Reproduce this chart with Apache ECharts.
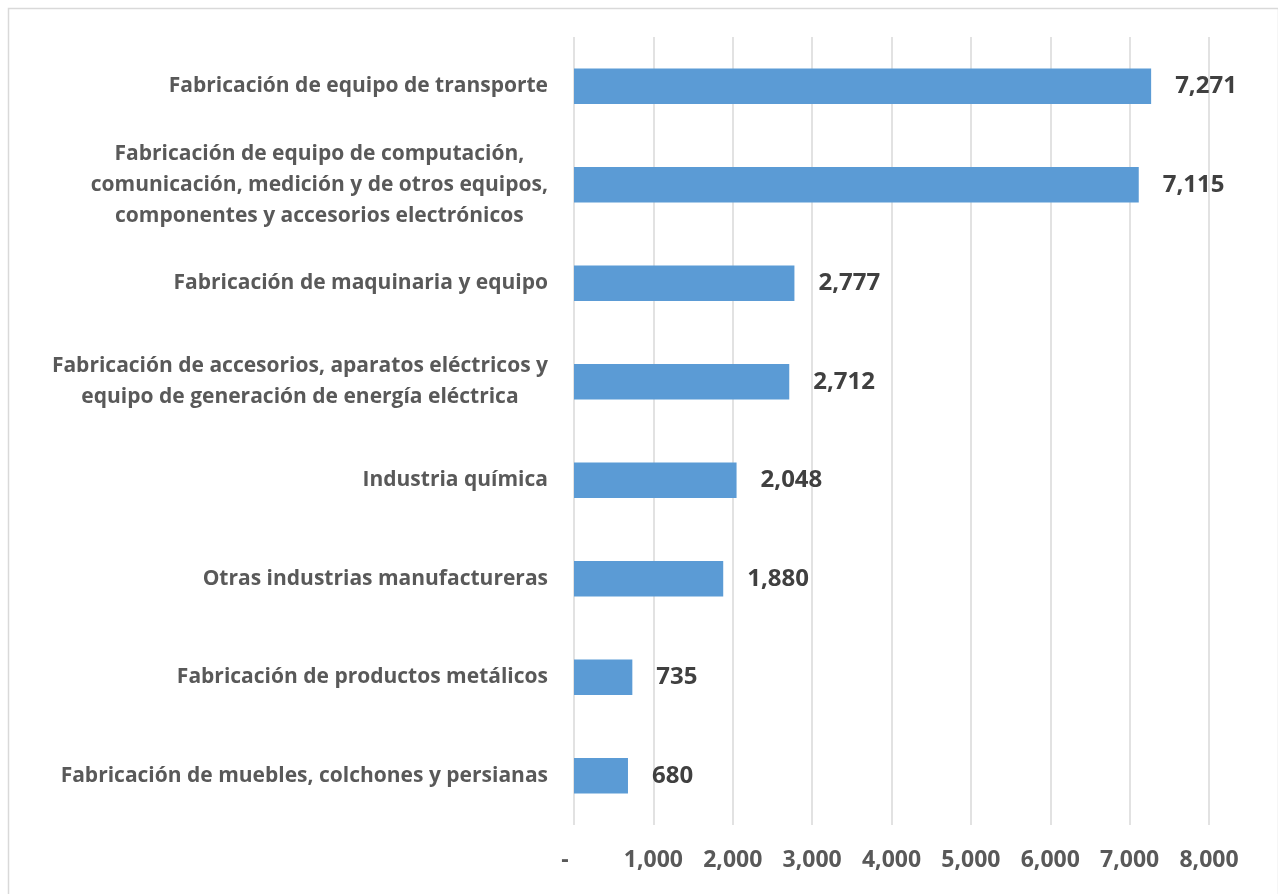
<!DOCTYPE html>
<html>
<head>
<meta charset="utf-8">
<script src="https://cdn.jsdelivr.net/npm/echarts@6/dist/echarts.min.js"></script>
<style>html,body{margin:0;padding:0;background:#fff}#c{width:1278px;height:894px}</style>
</head>
<body>
<div id="c"></div>
<script>
const categories = [
  "Fabricación de equipo de transporte",
  "Fabricación de equipo de computación,\ncomunicación, medición y de otros equipos,\ncomponentes y accesorios electrónicos",
  "Fabricación de maquinaria y equipo",
  "Fabricación de accesorios, aparatos eléctricos y\nequipo de generación de energía eléctrica",
  "Industria química",
  "Otras industrias manufactureras",
  "Fabricación de productos metálicos",
  "Fabricación de muebles, colchones y persianas"
];
const values = [7271, 7115, 2777, 2712, 2048, 1880, 735, 680];
const xTicks = { min: 0, max: 8000, interval: 1000 };

const FONT = "Open Sans";
const fmt = v => v === 0 ? '-   ' : v.toLocaleString('en-US');

const chart = echarts.init(document.getElementById('c'), null, { renderer: 'canvas' });
chart.setOption({
  animation: false,
  backgroundColor: '#ffffff',
  graphic: [{
    type: 'rect', left: 6, top: 6,
    shape: { width: 1270, height: 887 },
    style: { fill: 'none', stroke: '#d9d9d9', lineWidth: 1.5 }
  }],
  grid: { left: 574, right: 69, top: 37, bottom: 69, containLabel: false },
  xAxis: {
    type: 'value', min: xTicks.min, max: xTicks.max, interval: xTicks.interval,
    axisLine: { show: false }, axisTick: { show: false },
    splitLine: { show: true, lineStyle: { color: '#d9d9d9', width: 1.5 } },
    axisLabel: {
      formatter: fmt, margin: 24,
      fontFamily: FONT, fontWeight: 'bold', fontSize: 23, color: '#595959'
    }
  },
  yAxis: {
    type: 'category', data: categories, inverse: true,
    axisLine: { show: false }, axisTick: { show: false },
    axisLabel: {
      margin: 26, align: 'right',
      formatter: v => v.split('\n').map(l => '{c|' + l + '}').join('\n'),
      rich: {
        c: { align: 'center', fontFamily: FONT, fontWeight: 'bold', fontSize: 21, color: '#595959', lineHeight: 31 }
      }
    }
  },
  series: [{
    type: 'bar', data: values, barWidth: '36%',
    itemStyle: { color: '#5b9bd5' },
    label: {
      show: true, position: 'right', distance: 24,
      formatter: p => fmt(p.value),
      fontFamily: FONT, fontWeight: 'bold', fontSize: 24, color: '#404040'
    }
  }]
});
</script>
</body>
</html>
